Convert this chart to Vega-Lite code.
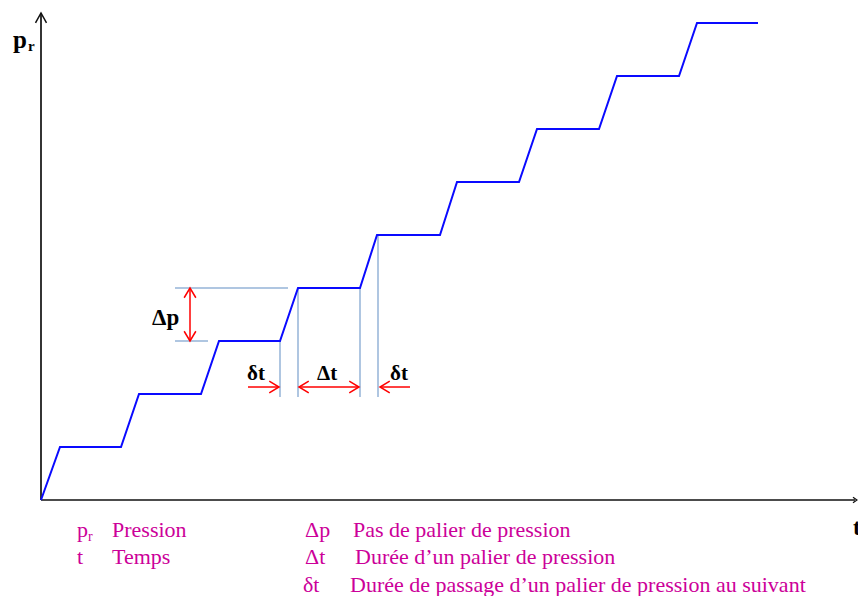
{
  "$schema": "https://vega.github.io/schema/vega-lite/v6.json",
  "width": 858,
  "height": 596,
  "autosize": {"type": "none"},
  "padding": 0,
  "background": "white",
  "config": {"view": {"stroke": null}},
  "datasets": {
    "stairs": [
      {"t": 0, "p": 0}, {"t": 1.9, "p": 1}, {"t": 8.0, "p": 1}, {"t": 9.8, "p": 2},
      {"t": 16.0, "p": 2}, {"t": 17.8, "p": 3}, {"t": 23.9, "p": 3}, {"t": 25.7, "p": 4},
      {"t": 31.9, "p": 4}, {"t": 33.6, "p": 5}, {"t": 39.9, "p": 5}, {"t": 41.6, "p": 6},
      {"t": 47.8, "p": 6}, {"t": 49.6, "p": 7}, {"t": 55.8, "p": 7}, {"t": 57.6, "p": 8},
      {"t": 63.8, "p": 8}, {"t": 65.6, "p": 9}, {"t": 71.7, "p": 9}
    ],
    "axes": [
      {"t": 0, "p": 0, "t2": 0, "p2": 9.189},
      {"t": 0, "p": 0, "t2": 81.4, "p2": 0}
    ],
    "guides": [
      {"t": 13.4, "p": 4, "t2": 24.7, "p2": 4},
      {"t": 13.4, "p": 3, "t2": 16.7, "p2": 3},
      {"t": 23.9, "p": 3, "t2": 23.9, "p2": 1.943},
      {"t": 25.7, "p": 4, "t2": 25.7, "p2": 1.943},
      {"t": 31.9, "p": 4, "t2": 31.9, "p2": 1.943},
      {"t": 33.7, "p": 5, "t2": 33.7, "p2": 1.943}
    ],
    "shafts": [
      {"t": 14.9, "p": 3, "t2": 14.9, "p2": 4},
      {"t": 20.7, "p": 2.132, "t2": 23.8, "p2": 2.132},
      {"t": 25.8, "p": 2.132, "t2": 31.8, "p2": 2.132},
      {"t": 33.9, "p": 2.132, "t2": 36.9, "p2": 2.132}
    ],
    "redHeads": [
      {"t": 14.9, "p": 4, "angle": 270},
      {"t": 14.9, "p": 3, "angle": 90},
      {"t": 23.8, "p": 2.132, "angle": 0},
      {"t": 25.8, "p": 2.132, "angle": 180},
      {"t": 31.8, "p": 2.132, "angle": 0},
      {"t": 33.9, "p": 2.132, "angle": 180}
    ],
    "yHead": [{"t": 0, "p": 9.189, "angle": 270}],
    "xHead": [{"t": 81.6, "p": 0, "angle": 0}],
    "bigP": [{"t": -2.8, "p": 8.528, "text": "p"}],
    "subR": [{"t": -1.3, "p": 8.472, "text": "r"}],
    "mid": [
      {"t": 81.2, "p": -0.66, "text": "t"},
      {"t": 11.1, "p": 3.302, "text": "Δp"}
    ],
    "small": [
      {"t": 20.6, "p": 2.264, "text": "δt"},
      {"t": 27.6, "p": 2.264, "text": "Δt"},
      {"t": 34.9, "p": 2.264, "text": "δt"}
    ],
    "legend": [
      {"t": 3.6, "p": -0.698, "text": "p"},
      {"t": 7.1, "p": -0.698, "text": "Pression"},
      {"t": 3.6, "p": -1.208, "text": "t"},
      {"t": 7.1, "p": -1.208, "text": "Temps"},
      {"t": 26.4, "p": -0.698, "text": "Δp"},
      {"t": 31.2, "p": -0.698, "text": "Pas de palier de pression"},
      {"t": 26.4, "p": -1.208, "text": "Δt"},
      {"t": 31.4, "p": -1.208, "text": "Durée d’un palier de pression"},
      {"t": 26.2, "p": -1.736, "text": "δt"},
      {"t": 30.9, "p": -1.736, "text": "Durée de passage d’un palier de pression au suivant"}
    ],
    "legendSub": [{"t": 4.7, "p": -0.774, "text": "r"}]
  },
  "encoding": {
    "x": {"field": "t", "type": "quantitative", "axis": null,
          "scale": {"domain": [-4.1, 81.7], "nice": false, "zero": false}},
    "y": {"field": "p", "type": "quantitative", "axis": null,
          "scale": {"domain": [-1.8113, 9.434], "nice": false, "zero": false}}
  },
  "layer": [
    {"data": {"name": "guides"}, "mark": {"type": "rule", "color": "#95b3d7", "strokeWidth": 1.5},
     "encoding": {"x2": {"field": "t2"}, "y2": {"field": "p2"}}},
    {"data": {"name": "axes"}, "mark": {"type": "rule", "color": "#111111", "strokeWidth": 1.7},
     "encoding": {"x2": {"field": "t2"}, "y2": {"field": "p2"}}},
    {"data": {"name": "stairs"}, "mark": {"type": "line", "color": "#0a0aff", "strokeWidth": 2}},
    {"data": {"name": "shafts"}, "mark": {"type": "rule", "color": "#ff0000", "strokeWidth": 1.5},
     "encoding": {"x2": {"field": "t2"}, "y2": {"field": "p2"}}},
    {"data": {"name": "redHeads"},
     "mark": {"type": "point", "shape": "M-1,-0.6L0,0L-1,0.6", "filled": false, "color": "#ff0000", "strokeWidth": 1.5, "size": 380, "opacity": 1},
     "encoding": {"angle": {"field": "angle", "type": "quantitative", "scale": null}}},
    {"data": {"name": "yHead"},
     "mark": {"type": "point", "shape": "M-1,-0.55L0,0L-1,0.55", "filled": false, "color": "#111111", "strokeWidth": 1.5, "size": 400, "opacity": 1},
     "encoding": {"angle": {"field": "angle", "type": "quantitative", "scale": null}}},
    {"data": {"name": "xHead"},
     "mark": {"type": "point", "shape": "M-1,-0.7L0,0L-1,0.7", "filled": false, "color": "#111111", "strokeWidth": 1.3, "size": 64, "opacity": 1},
     "encoding": {"angle": {"field": "angle", "type": "quantitative", "scale": null}}},
    {"data": {"name": "bigP"},
     "mark": {"type": "text", "font": "Liberation Serif", "fontWeight": "bold", "fontSize": 25, "align": "left", "baseline": "alphabetic", "color": "#000000"},
     "encoding": {"text": {"field": "text"}}},
    {"data": {"name": "subR"},
     "mark": {"type": "text", "font": "Liberation Serif", "fontWeight": "bold", "fontSize": 15, "align": "left", "baseline": "alphabetic", "color": "#000000"},
     "encoding": {"text": {"field": "text"}}},
    {"data": {"name": "mid"},
     "mark": {"type": "text", "font": "Liberation Serif", "fontWeight": "bold", "fontSize": 23, "align": "left", "baseline": "alphabetic", "color": "#000000"},
     "encoding": {"text": {"field": "text"}}},
    {"data": {"name": "small"},
     "mark": {"type": "text", "font": "Liberation Serif", "fontWeight": "bold", "fontSize": 21, "align": "left", "baseline": "alphabetic", "color": "#000000"},
     "encoding": {"text": {"field": "text"}}},
    {"data": {"name": "legend"},
     "mark": {"type": "text", "font": "Liberation Serif", "fontSize": 22, "align": "left", "baseline": "alphabetic", "color": "#cc0099"},
     "encoding": {"text": {"field": "text"}}},
    {"data": {"name": "legendSub"},
     "mark": {"type": "text", "font": "Liberation Serif", "fontSize": 14, "align": "left", "baseline": "alphabetic", "color": "#cc0099"},
     "encoding": {"text": {"field": "text"}}}
  ]
}
